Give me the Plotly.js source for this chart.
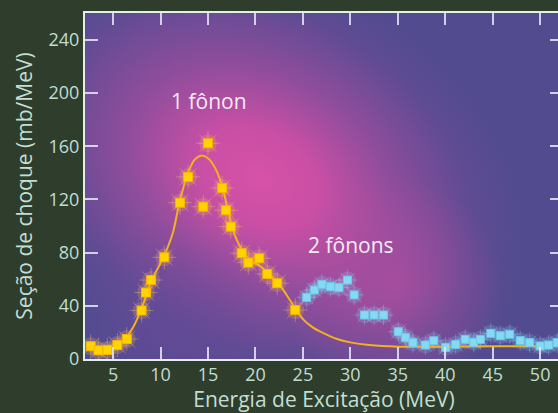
<!DOCTYPE html>
<html>
<head>
<meta charset="utf-8">
<script src="https://cdn.plot.ly/plotly-3.0.1.min.js"></script>
<style>
html,body{margin:0;padding:0;background:#2f3e2c;overflow:hidden;width:558px;height:413px;}
#chart{width:563px;height:413px;}
</style>
</head>
<body>
<div id="chart"></div>
<script>
// 1-phonon data (yellow)
const onePhononE = [2.64,3.45,4.4,5.45,6.44,8.0,8.47,9.0,10.4,12.05,12.9,14.5,15.0,16.5,16.9,17.4,18.55,19.25,20.4,21.25,22.3,24.2];
const onePhononS = [9.6,6.5,6.8,10.5,15.0,36.5,50.0,59.4,76.5,117.6,137.0,114.6,162.3,128.7,111.9,99.6,79.6,72.5,75.8,64.0,57.0,36.8];

// 2-phonon data (blue)
const twoPhononE = [25.4,26.2,27.0,27.9,28.8,29.7,30.4,31.5,32.5,33.5,35.05,35.8,36.6,37.9,38.8,40.05,41.1,42.1,43.0,43.7,44.8,45.8,46.8,47.9,48.9,50.0,50.9,51.8];
const twoPhononS = [46.4,51.9,56.2,54.4,53.7,59.4,48.2,33.1,33.1,33.1,20.5,16.3,12.3,10.5,13.7,8.8,11.0,14.8,12.6,14.8,19.3,17.5,18.6,13.8,12.3,9.8,10.5,12.3];

// fitted curve (yellow line)
const fitE = [6.3,7.2,8.0,9.0,10.4,11.3,12.0,12.9,13.6,14.3,15.0,15.8,16.5,17.0,17.5,18.5,19.5,20.5,21.3,22.3,23.3,24.2,25.0,26.0,27.0,28.6,30.0,32.0,35.0,40.0,45.0,50.0,52.4];
const fitS = [15,25,38,58,78,95,118,140,150,153,151,143,130,115,100,83,74,70,65,58,48,38,30,24,20,15,12.5,10.5,9.3,9.3,9.5,9.5,9.5];

const xTicks = [5,10,15,20,25,30,35,40,45,50];
const yTicks = [0,40,80,120,160,200,240];

const labelOne = "1 fônon";
const labelTwo = "2 fônons";
const xTitle = "Energia de Excitação (MeV)";
const yTitle = "Seção de choque (mb/MeV)";

// background gradient (decorative)
const W = 478, H = 346;
const svg =
 '<svg xmlns="http://www.w3.org/2000/svg" width="'+W+'" height="'+H+'" viewBox="0 0 '+W+' '+H+'" preserveAspectRatio="none">'+
 '<defs>'+
 '<radialGradient id="g1" gradientUnits="userSpaceOnUse" cx="175" cy="165" r="260" gradientTransform="translate(175 165) rotate(30) scale(1.1 0.8) translate(-175 -165)">'+
 '<stop offset="0" stop-color="#d652a7"/>'+
 '<stop offset="0.22" stop-color="#c94fa5"/>'+
 '<stop offset="0.5" stop-color="#8e4d9c"/>'+
 '<stop offset="0.8" stop-color="#5e4b93"/>'+
 '<stop offset="1" stop-color="#524b8f"/>'+
 '</radialGradient>'+
 '<radialGradient id="g2" gradientUnits="userSpaceOnUse" cx="310" cy="275" r="110">'+
 '<stop offset="0" stop-color="#c24ea2" stop-opacity="0.6"/>'+
 '<stop offset="1" stop-color="#c24ea2" stop-opacity="0"/>'+
 '</radialGradient>'+
 '<radialGradient id="g3" gradientUnits="userSpaceOnUse" cx="90" cy="320" r="110">'+
 '<stop offset="0" stop-color="#6a4a9a" stop-opacity="0.55"/>'+
 '<stop offset="1" stop-color="#6a4a9a" stop-opacity="0"/>'+
 '</radialGradient>'+
 '</defs>'+
 '<rect x="0" y="0" width="'+W+'" height="'+H+'" fill="#524a90"/>'+
 '<rect x="0" y="0" width="'+W+'" height="'+H+'" fill="url(#g1)"/>'+
 '<rect x="0" y="0" width="'+W+'" height="'+H+'" fill="url(#g2)"/>'+
 '<rect x="0" y="0" width="'+W+'" height="'+H+'" fill="url(#g3)"/>'+
 '</svg>';
const bgURI = 'data:image/svg+xml;charset=utf-8,' + encodeURIComponent(svg);

const traces = [
  // glow halos
  {x: onePhononE, y: onePhononS, type:'scatter', mode:'markers', hoverinfo:'skip', showlegend:false,
   marker:{symbol:'circle', size:18, color:'rgba(255,200,70,0.2)', line:{width:0}}},
  {x: onePhononE, y: onePhononS, type:'scatter', mode:'markers', hoverinfo:'skip', showlegend:false,
   marker:{symbol:'asterisk-open', size:20, color:'rgba(255,215,120,0.4)', line:{width:0.8, color:'rgba(255,215,120,0.4)'}}},
  {x: twoPhononE, y: twoPhononS, type:'scatter', mode:'markers', hoverinfo:'skip', showlegend:false,
   marker:{symbol:'circle', size:17, color:'rgba(140,220,255,0.18)', line:{width:0}}},
  {x: twoPhononE, y: twoPhononS, type:'scatter', mode:'markers', hoverinfo:'skip', showlegend:false,
   marker:{symbol:'asterisk-open', size:17, color:'rgba(170,230,255,0.35)', line:{width:0.8, color:'rgba(170,230,255,0.35)'}}},
  // fit line
  {x: fitE, y: fitS, type:'scatter', mode:'lines', showlegend:false,
   line:{color:'#f2b21e', width:2, shape:'spline', smoothing:1}},
  // data markers
  {x: onePhononE, y: onePhononS, type:'scatter', mode:'markers', name:'1 fônon', showlegend:false,
   marker:{symbol:'square', size:9, color:'#ffd500', line:{width:1, color:'#ffb000'}}},
  {x: twoPhononE, y: twoPhononS, type:'scatter', mode:'markers', name:'2 fônons', showlegend:false,
   marker:{symbol:'square', size:8, color:'#86d9f2', line:{width:1, color:'#6cc8ea'}}}
];

const axisFont = {family:'"Open Sans", sans-serif', size:18, color:'#c0ddd2'};
const titleFont = {family:'"Open Sans", sans-serif', size:21, color:'#c2dfd4'};
const annFont = {family:'"Open Sans", sans-serif', size:21, color:'#f4ecf4'};

const layout = {
  width: 563, height: 413,
  margin: {l:85, r:0, t:13, b:54},
  paper_bgcolor:'#2f3e2c',
  plot_bgcolor:'#524a90',
  showlegend:false,
  images: [{source: bgURI, xref:'paper', yref:'paper', x:0, y:1, sizex:1, sizey:1,
            sizing:'stretch', xanchor:'left', yanchor:'top', layer:'below'}],
  xaxis: {
    range:[2.04, 52.41], tickvals:xTicks, ticktext:xTicks.map(String),
    ticks:'inside', ticklen:12, tickwidth:2, tickcolor:'rgba(232,232,245,0.85)',
    showline:true, linecolor:'#e2f1e8', linewidth:2, mirror:'allticks',
    showgrid:false, zeroline:false, tickfont:axisFont, ticklabelstandoff:-2,
    title:{text:xTitle, font:titleFont, standoff:8}
  },
  yaxis: {
    range:[0, 260.3], tickvals:yTicks, ticktext:yTicks.map(String),
    ticks:'inside', ticklen:13, tickwidth:2, tickcolor:'rgba(232,232,245,0.85)',
    showline:true, linecolor:'#e2f1e8', linewidth:2, mirror:'allticks',
    showgrid:false, zeroline:false, tickfont:axisFont,
    title:{text:yTitle, font:titleFont}
  },
  annotations: [
    {x:15.1, y:194, xref:'x', yref:'y', text:labelOne, showarrow:false, font:annFont},
    {x:30.1, y:85.5, xref:'x', yref:'y', text:labelTwo, showarrow:false, font:annFont}
  ]
};

Plotly.newPlot('chart', traces, layout, {displayModeBar:false, staticPlot:true});
</script>
</body>
</html>
